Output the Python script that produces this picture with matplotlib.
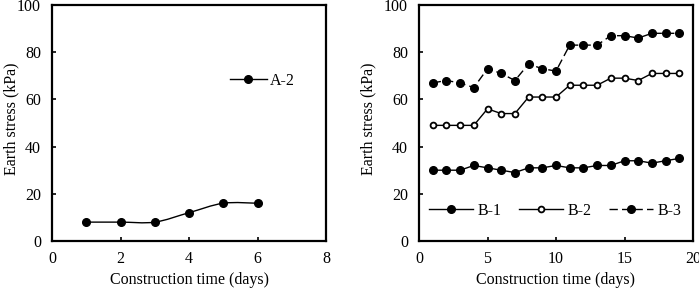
import numpy as np
import matplotlib
matplotlib.use("Agg")
import matplotlib.pyplot as plt
from matplotlib.path import Path
from matplotlib.patches import PathPatch
from matplotlib.lines import Line2D

plt.rcParams['font.family'] = ['Liberation Serif', 'DejaVu Serif']
plt.rcParams['font.size'] = 11.5

# data
days_a = [1, 2, 3, 4, 5, 6]
a2 = [8, 8, 8, 12, 16, 16]

days_b = list(range(1, 20))
b1 = [30, 30, 30, 32, 31, 30, 29, 31, 31, 32, 31, 31, 32, 32, 34, 34, 33, 34, 35]
b2 = [49, 49, 49, 49, 56, 54, 54, 61, 61, 61, 66, 66, 66, 69, 69, 68, 71, 71, 71]
b3 = [67, 68, 67, 65, 73, 71, 68, 75, 73, 72, 83, 83, 83, 87, 87, 86, 88, 88, 88]


def smooth_path(x, y, t=1/6):
    # Catmull-Rom style bezier through the points (like Excel smoothed line)
    x = np.asarray(x, float)
    y = np.asarray(y, float)
    verts = [(x[0], y[0])]
    codes = [Path.MOVETO]
    n = len(x)
    for i in range(n - 1):
        p0 = (x[max(i - 1, 0)], y[max(i - 1, 0)])
        p1 = (x[i], y[i])
        p2 = (x[i + 1], y[i + 1])
        p3 = (x[min(i + 2, n - 1)], y[min(i + 2, n - 1)])
        c1 = (p1[0] + (p2[0] - p0[0]) * t, p1[1] + (p2[1] - p0[1]) * t)
        c2 = (p2[0] - (p3[0] - p1[0]) * t, p2[1] - (p3[1] - p1[1]) * t)
        verts += [c1, c2, p2]
        codes += [Path.CURVE4] * 3
    return Path(verts, codes)


def style_axes(ax, ylab_x):
    for s in ax.spines.values():
        s.set_linewidth(1.6)
    ax.tick_params(direction='in', length=3, width=1.2, labelsize=11.5, pad=7)
    ax.tick_params(axis='y', pad=8)
    ax.set_ylim(0, 100)
    ax.set_yticks(range(0, 101, 20))
    ax.set_xlabel('Construction time (days)', labelpad=4)
    ax.set_ylabel('Earth stress (kPa)')
    ax.yaxis.set_label_coords(ylab_x, 0.52)


fig = plt.figure(figsize=(6.99, 2.88), dpi=100)
ax1 = fig.add_axes([52/699, 1 - 241/288, 274/699, 236/288])
ax2 = fig.add_axes([419/699, 1 - 241/288, 274/699, 236/288])

# left panel
ax1.add_patch(PathPatch(smooth_path(days_a, a2), facecolor='none', edgecolor='black', lw=1.0))
ax1.plot(days_a, a2, 'o', color='black', ms=5.5, ls='none')
ax1.set_xlim(0, 8)
ax1.set_xticks(range(0, 9, 2))
style_axes(ax1, -0.12)
h = Line2D([], [], color='black', lw=1.0, marker='o', ms=5.5)
ax1.legend([h], ['A-2'], frameon=False, loc='center left', bbox_to_anchor=(0.62, 0.68),
           handlelength=2.3, handletextpad=0.2, borderpad=0)

# right panel
ax2.plot(days_b, b1, '-o', color='black', lw=1.0, ms=5.5, label='B-1')
ax2.plot(days_b, b2, '-o', color='black', lw=1.0, ms=4.2, mfc='white', mew=1.3, label='B-2')
ax2.plot(days_b, b3, '--o', color='black', lw=1.0, ms=5.5, dashes=(6, 3), label='B-3')
ax2.set_xlim(0, 20)
ax2.set_xticks(range(0, 21, 5))
style_axes(ax2, -0.155)
ax2.legend(ncol=3, frameon=False, loc='center left', bbox_to_anchor=(0.035, 0.127),
           handlelength=2.75, handletextpad=0.3, columnspacing=1.1, borderpad=0,
           borderaxespad=0)

fig.savefig('out.png', dpi=100)
